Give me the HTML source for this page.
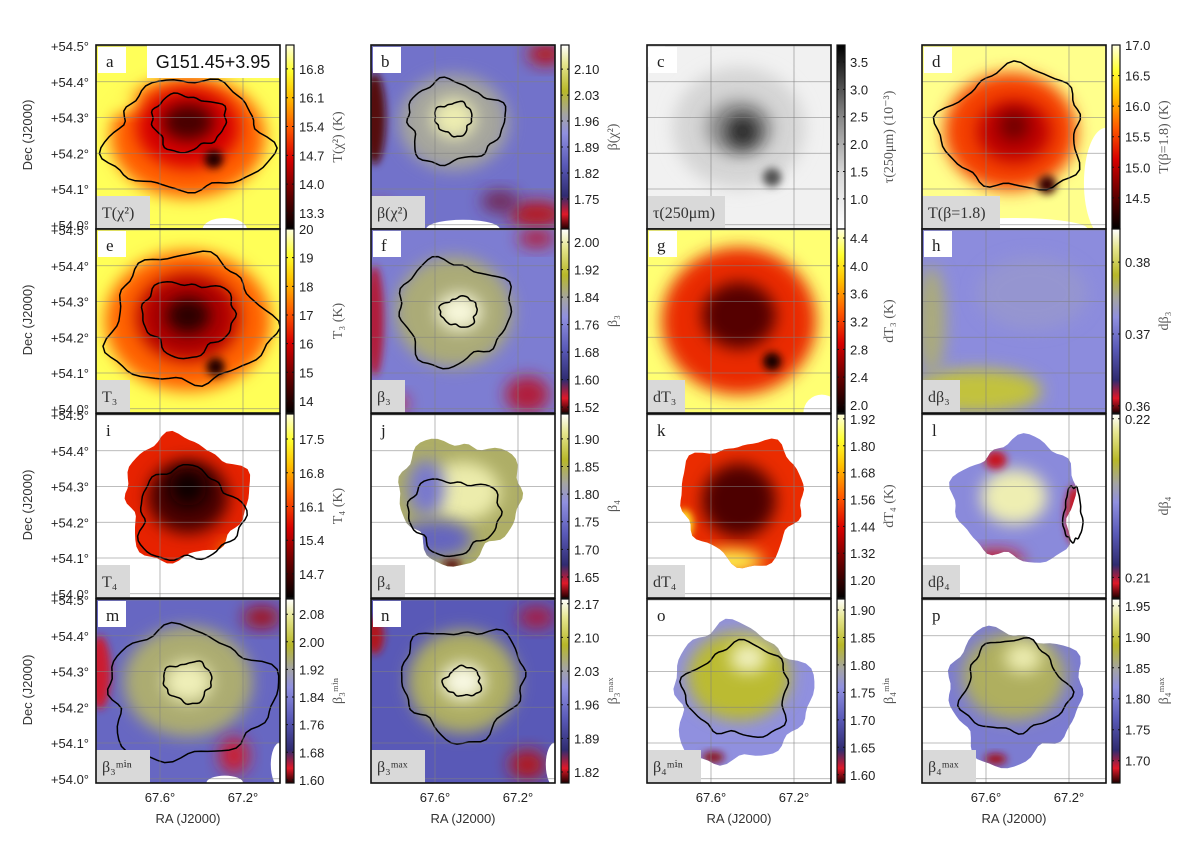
<!DOCTYPE html>
<html><head><meta charset="utf-8"><style>
html,body{margin:0;padding:0;background:#fff;}
svg{display:block;}
</style></head><body>
<svg id="fig" xmlns="http://www.w3.org/2000/svg" width="1200" height="842" viewBox="0 0 1200 842">
<defs>
<filter id="blur" x="-50%" y="-50%" width="200%" height="200%"><feGaussianBlur stdDeviation="8"/></filter>
<filter id="blur2" x="-50%" y="-50%" width="200%" height="200%"><feGaussianBlur stdDeviation="4"/></filter>
</defs>
<text x="0" y="0" transform="translate(32,135) rotate(-90)" text-anchor="middle" font-family="Liberation Sans, sans-serif" font-size="13" fill="#333">Dec (J2000)</text>
<text x="0" y="0" transform="translate(32,320) rotate(-90)" text-anchor="middle" font-family="Liberation Sans, sans-serif" font-size="13" fill="#333">Dec (J2000)</text>
<text x="0" y="0" transform="translate(32,505) rotate(-90)" text-anchor="middle" font-family="Liberation Sans, sans-serif" font-size="13" fill="#333">Dec (J2000)</text>
<text x="0" y="0" transform="translate(32,690) rotate(-90)" text-anchor="middle" font-family="Liberation Sans, sans-serif" font-size="13" fill="#333">Dec (J2000)</text>
</svg>
<script>
const panelIds=['a','b','c','d','e','f','g','h','i','j','k','l','m','n','o','p'];
const cmapNames=['hot','blue','grey','hot','hot','blue','hot','blue','hot','blue','hot','blue','blue','blue','blue','blue'];
const vmins=[12.91,1.669,0.45,13.99,13.58,1.503,1.885,0.359,14.2,1.612,1.12,0.2087,1.591,1.797,1.585,1.664];
const vmaxs=[17.38,2.165,3.81,17.0,20.0,2.038,4.53,0.3846,18.02,1.945,1.942,0.2203,2.124,2.18,1.92,1.961];
const tickValues=[
 [16.8,16.1,15.4,14.7,14.0,13.3],[2.10,2.03,1.96,1.89,1.82,1.75],[3.5,3.0,2.5,2.0,1.5,1.0],[17.0,16.5,16.0,15.5,15.0,14.5],
 [20,19,18,17,16,15,14],[2.00,1.92,1.84,1.76,1.68,1.60,1.52],[4.4,4.0,3.6,3.2,2.8,2.4,2.0],[0.38,0.37,0.36],
 [17.5,16.8,16.1,15.4,14.7],[1.90,1.85,1.80,1.75,1.70,1.65],[1.92,1.80,1.68,1.56,1.44,1.32,1.20],[0.22,0.21],
 [2.08,2.00,1.92,1.84,1.76,1.68,1.60],[2.17,2.10,2.03,1.96,1.89,1.82],[1.90,1.85,1.80,1.75,1.70,1.65,1.60],[1.95,1.90,1.85,1.80,1.75,1.70]];
const tickDecimals=[1,2,1,1,0,2,1,2,1,2,2,2,2,2,2,2];
const cbLabels=['T(χ²) (K)','β(χ²)','τ(250μm) (10⁻³)','T(β=1.8) (K)','T₃ (K)','β₃','dT₃ (K)','dβ₃','T₄ (K)','β₄','dT₄ (K)','dβ₄','β₃ᵐⁱⁿ','β₃ᵐᵃˣ','β₄ᵐⁱⁿ','β₄ᵐᵃˣ'];
const mapLabels=['T(χ²)','β(χ²)','τ(250μm)','T(β=1.8)','T₃','β₃','dT₃','dβ₃','T₄','β₄','dT₄','dβ₄','β₃ᵐⁱⁿ','β₃ᵐᵃˣ','β₄ᵐⁱⁿ','β₄ᵐᵃˣ'];
const baseValues=[16.9,1.88,0.8,16.8,19.3,1.75,4.3,0.372,15.9,1.84,1.5,0.2145,1.80,1.93,1.76,1.80];
const blobs=[
 [[0.5,0.5,0.42,0.33,15.4],[0.5,0.45,0.28,0.22,14.6],[0.5,0.42,0.14,0.1,13.5],[0.64,0.62,0.05,0.05,13.2],[0.12,0.3,0.1,0.06,16.9]],
 [[0.45,0.42,0.3,0.26,1.98],[0.45,0.4,0.12,0.11,2.13],[0.02,0.4,0.06,0.25,1.68],[0.9,0.92,0.15,0.07,1.70],[0.95,0.05,0.1,0.06,1.70],[0.05,0.95,0.08,0.08,1.70],[0.7,0.85,0.1,0.06,1.74]],
 [[0.5,0.45,0.36,0.33,1.5],[0.5,0.45,0.18,0.15,2.4],[0.52,0.47,0.09,0.09,3.4],[0.68,0.72,0.05,0.05,3.0]],
 [[0.48,0.47,0.36,0.32,15.5],[0.5,0.47,0.2,0.17,15.0],[0.5,0.44,0.08,0.08,14.6],[0.68,0.76,0.05,0.05,14.3]],
 [[0.5,0.5,0.45,0.38,17.2],[0.5,0.48,0.28,0.24,15.6],[0.5,0.47,0.12,0.1,14.1],[0.65,0.75,0.05,0.05,14.0]],
 [[0.45,0.45,0.32,0.3,1.86],[0.48,0.45,0.12,0.1,2.02],[0.02,0.5,0.05,0.3,1.56],[0.9,0.05,0.1,0.05,1.56],[0.85,0.9,0.12,0.1,1.56],[0.1,0.95,0.1,0.05,1.55]],
 [[0.5,0.5,0.42,0.4,3.1],[0.5,0.47,0.2,0.18,2.3],[0.68,0.72,0.05,0.05,2.0]],
 [[0.3,0.88,0.35,0.12,0.379],[0.05,0.5,0.08,0.3,0.376],[0.6,0.35,0.3,0.2,0.373]],
 [[0.5,0.45,0.22,0.2,14.7],[0.5,0.4,0.1,0.1,14.3],[0.75,0.75,0.08,0.05,16.8]],
 [[0.5,0.42,0.2,0.16,1.92],[0.35,0.68,0.2,0.1,1.74],[0.3,0.4,0.1,0.15,1.76],[0.44,0.82,0.05,0.03,1.62]],
 [[0.5,0.47,0.2,0.2,1.24],[0.45,0.8,0.18,0.06,1.85],[0.2,0.6,0.05,0.08,1.8]],
 [[0.5,0.45,0.18,0.15,0.2195],[0.83,0.55,0.05,0.16,0.2095],[0.4,0.8,0.15,0.06,0.2095],[0.4,0.25,0.06,0.05,0.2095]],
 [[0.5,0.45,0.35,0.3,1.95],[0.5,0.45,0.13,0.11,2.09],[0.02,0.4,0.06,0.2,1.64],[0.9,0.1,0.1,0.06,1.62],[0.12,0.95,0.08,0.06,1.6],[0.75,0.85,0.08,0.1,1.64]],
 [[0.5,0.45,0.3,0.28,2.06],[0.5,0.45,0.12,0.1,2.17],[0.02,0.2,0.05,0.1,1.82],[0.9,0.1,0.1,0.06,1.84],[0.85,0.9,0.1,0.08,1.82]],
 [[0.5,0.42,0.28,0.24,1.84],[0.55,0.32,0.1,0.08,1.9],[0.36,0.86,0.06,0.03,1.6]],
 [[0.5,0.42,0.28,0.24,1.87],[0.55,0.32,0.1,0.08,1.94],[0.4,0.87,0.06,0.03,1.68]]];
const coverage=[0,0,0,0,0,0,0,0,[0.48,0.46,0.33],[0.48,0.46,0.33],[0.52,0.47,0.33],[0.52,0.47,0.33],0,0,[0.5,0.52,0.37],[0.5,0.52,0.36]];
const holes=[[[0.7,1.0,0.12,0.06]],[[0.5,1.0,0.2,0.05]],[[0.02,0.02,0.08,0.1]],[[1.0,0.75,0.12,0.3],[0.5,1.0,0.4,0.06]],[],[],[[0.1,1.0,0.1,0.08],[0.95,1.0,0.1,0.1]],[],[],[],[],[],[[0.7,1.0,0.1,0.04],[1.0,0.9,0.05,0.12]],[[1.0,0.9,0.05,0.12]],[],[]];
const contours=[
 [[0.5,0.5,0.43,0.3],[0.5,0.42,0.2,0.15]],[[0.45,0.42,0.26,0.22],[0.45,0.4,0.1,0.09]],[],[[0.5,0.46,0.38,0.33]],
 [[0.5,0.5,0.43,0.35],[0.5,0.48,0.25,0.2]],[[0.45,0.45,0.3,0.28],[0.48,0.45,0.1,0.08]],[],[],
 [[0.5,0.55,0.28,0.25]],[[0.45,0.55,0.25,0.2]],[],[[0.82,0.55,0.05,0.15]],
 [[0.5,0.52,0.45,0.35],[0.5,0.45,0.13,0.11]],[[0.5,0.45,0.33,0.3],[0.5,0.45,0.1,0.08]],[[0.5,0.5,0.28,0.25]],[[0.5,0.48,0.28,0.25]]];
const decTicks=[54.5,54.4,54.3,54.2,54.1,54.0];
const decTickLabels=['+54.5°','+54.4°','+54.3°','+54.2°','+54.1°','+54.0°'];
const raTicks=[67.6,67.2];
const raTickLabels=['67.6°','67.2°'];

const CMAPS={
 hot:[[0,'#000000'],[0.18,'#600000'],[0.38,'#d80000'],[0.55,'#ff5a00'],[0.72,'#ffc000'],[0.86,'#ffff30'],[1,'#ffffe0']],
 blue:[[0,'#200000'],[0.08,'#e01828'],[0.18,'#302c70'],[0.35,'#5a5ab8'],[0.52,'#9090e0'],[0.62,'#a4a4a4'],[0.75,'#b8b828'],[0.9,'#e6e690'],[1,'#ffffff']],
 grey:[[0,'#ffffff'],[0.3,'#d8d8d8'],[0.6,'#8a8a8a'],[1,'#000000']]};
function hex(c){return [parseInt(c.slice(1,3),16),parseInt(c.slice(3,5),16),parseInt(c.slice(5,7),16)];}
function cmap(name,t){t=Math.max(0,Math.min(1,t));const s=CMAPS[name];
 for(let i=1;i<s.length;i++){if(t<=s[i][0]){const a=hex(s[i-1][1]),b=hex(s[i][1]);const f=(t-s[i-1][0])/(s[i][0]-s[i-1][0]);
 return 'rgb('+a.map((v,k)=>Math.round(v+(b[k]-v)*f)).join(',')+')';}}return s[s.length-1][1];}
const NS='http://www.w3.org/2000/svg';
const svg=document.getElementById('fig');
const defs=svg.querySelector('defs');
function mk(tag,attrs,parent){const e=document.createElementNS(NS,tag);for(const k in attrs)e.setAttribute(k,attrs[k]);(parent||svg).appendChild(e);return e;}
function wobble(cx,cy,rx,ry,seed){let d='';for(let i=0;i<=72;i++){const t=i/72*Math.PI*2;
 const r=1+0.09*Math.sin(3*t+seed)+0.06*Math.sin(5*t+2*seed)+0.04*Math.sin(9*t+3*seed)+0.02*Math.sin(14*t+seed);
 d+=(i?'L':'M')+(cx+rx*r*Math.cos(t)).toFixed(1)+','+(cy+ry*r*Math.sin(t)).toFixed(1);}return d+'Z';}
const colLeft=[96,371,647,922],rowTop=[45,229,414,599],PW=184,PH=184;
const SANS='Liberation Sans, DejaVu Sans, sans-serif',SERIF='Liberation Serif, DejaVu Serif, serif';

panelIds.forEach((id,p)=>{
 const col=p%4,row=Math.floor(p/4),x0=colLeft[col],y0=rowTop[row];
 const vmin=vmins[p],vmax=vmaxs[p],cm=cmapNames[p];
 const norm=v=>(v-vmin)/(vmax-vmin);
 const g=mk('g',{});
 
 
 const cp=mk('clipPath',{id:'clip'+id},defs);
 mk('rect',{x:x0,y:y0,width:PW,height:PH},cp);
 const cov=coverage[p];
 if(cov){const cc=mk('clipPath',{id:'cov'+id},defs);
  mk('path',{d:wobble(x0+cov[0]*PW,y0+cov[1]*PH,cov[2]*PW,cov[2]*PH,p)},cc);}
 const bg=mk('rect',{x:x0,y:y0,width:PW,height:PH,fill:'#fff'},g);
 
 
 const outer=mk('g',{'clip-path':'url(#clip'+id+')'},g);
 const mapG=mk('g',cov?{'clip-path':'url(#cov'+id+')'}:{},outer);
 
 
 const base=mk('rect',{x:x0-10,y:y0-10,width:PW+20,height:PH+20,fill:cmap(cm,norm(baseValues[p]))},mapG);
 
 
 blobs[p].forEach((b,k)=>{
  const e=mk('ellipse',{cx:x0+b[0]*PW,cy:y0+b[1]*PH,rx:b[2]*PW,ry:b[3]*PH,fill:cmap(cm,norm(b[4])),filter:b[2]<0.08?'url(#blur2)':'url(#blur)'},mapG);
  
  
 });
 holes[p].forEach(h=>{
  const e=mk('ellipse',{cx:x0+h[0]*PW,cy:y0+h[1]*PH,rx:h[2]*PW,ry:h[3]*PH,fill:'#fff'},outer);
  
  
 });
 contours[p].forEach((c,k)=>{
  const e=mk('path',{d:wobble(x0+c[0]*PW,y0+c[1]*PH,c[2]*PW,c[3]*PH,p*1.7+k*2.3),fill:'none',stroke:'#000','stroke-width':1.5},outer);
  
  
 });
 const decY=d=>y0+1+(54.5-d)*357.5;
 const raX=r=>x0+64+(67.6-r)*207.5;
 decTicks.forEach(d=>{
  const l=mk('line',{x1:x0,x2:x0+PW,y1:decY(d),y2:decY(d),stroke:'#808080','stroke-width':0.8,opacity:0.7},outer);
  
  
 });
 raTicks.forEach(r=>{
  const l=mk('line',{x1:raX(r),x2:raX(r),y1:y0,y2:y0+PH,stroke:'#808080','stroke-width':0.8,opacity:0.7},outer);
  
  
 });
 const lb=mk('rect',{x:x0+2,y:y0+2,width:28,height:26,fill:'#fff'},outer);
 
 
 const lt=mk('text',{x:x0+10,y:y0+22,'font-family':SERIF,'font-size':17,fill:'#222'},outer);
 lt.textContent=id;
 
 
 const bw=Math.max(34,mapLabels[p].length*8+14);
 const mb=mk('rect',{x:x0,y:y0+PH-33,width:bw,height:33,fill:'#d9d9d9'},outer);
 
 
 const mt=mk('text',{x:x0+6,y:y0+PH-11,'font-family':SERIF,'font-size':16,fill:'#333'},outer);
 mt.textContent=mapLabels[p];
 
 
 if(p===0){
  const tb=mk('rect',{x:x0+51,y:y0,width:133,height:33,fill:'#fff'},outer);
  
  
  const tt=mk('text',{x:x0+117,y:y0+23,'text-anchor':'middle','font-family':SANS,'font-size':18,fill:'#111'},outer);
  tt.textContent='G151.45+3.95';
  
  
 }
 const fr=mk('rect',{x:x0,y:y0,width:PW,height:PH,fill:'none',stroke:'#111','stroke-width':1.6},g);
 
 
 if(col===0){
  decTicks.forEach((d,k)=>{
   const t=mk('text',{x:x0-7,y:decY(d)+5,'text-anchor':'end','font-family':SANS,'font-size':13,fill:'#222'},g);
   t.textContent=decTickLabels[k];
   
   
  });
 }
 if(row===3){
  raTicks.forEach((r,k)=>{
   const t=mk('text',{x:raX(r),y:y0+PH+19,'text-anchor':'middle','font-family':SANS,'font-size':13,fill:'#222'},g);
   t.textContent=raTickLabels[k];
   
   
  });
  const ra=mk('text',{x:x0+92,y:y0+PH+40,'text-anchor':'middle','font-family':SANS,'font-size':13,fill:'#333'},g);
  ra.textContent='RA (J2000)';
  
  
 }
 const cbx=x0+PW+6,cbw=8;
 const gr=mk('linearGradient',{id:'grad'+id,x1:0,y1:1,x2:0,y2:0},defs);
 CMAPS[cm].forEach(s=>mk('stop',{offset:s[0],'stop-color':s[1]},gr));
 const cb=mk('rect',{x:cbx,y:y0,width:cbw,height:PH,fill:'url(#grad'+id+')',stroke:'#111','stroke-width':1.2},g);
 
 
 const cbY=v=>y0+PH-norm(v)*PH;
 tickValues[p].forEach(v=>{
  const y=cbY(v);
  const tk=mk('path',{d:'M'+cbx+','+y+'h2M'+(cbx+cbw)+','+y+'h-2',stroke:'#111','stroke-width':1},g);
  
  
  const t=mk('text',{x:cbx+cbw+5,y:y+5,'font-family':SANS,'font-size':13,fill:'#222'},g);
  t.textContent=v.toFixed(tickDecimals[p]);
  
  
 });
 const cl=mk('text',{x:0,y:0,transform:'translate('+(cbx+cbw+48)+','+(y0+PH/2)+') rotate(-90)','text-anchor':'middle','font-family':SERIF,'font-size':14,fill:'#555'},g);
 cl.textContent=cbLabels[p];
 
 
});
</script>
</body></html>
